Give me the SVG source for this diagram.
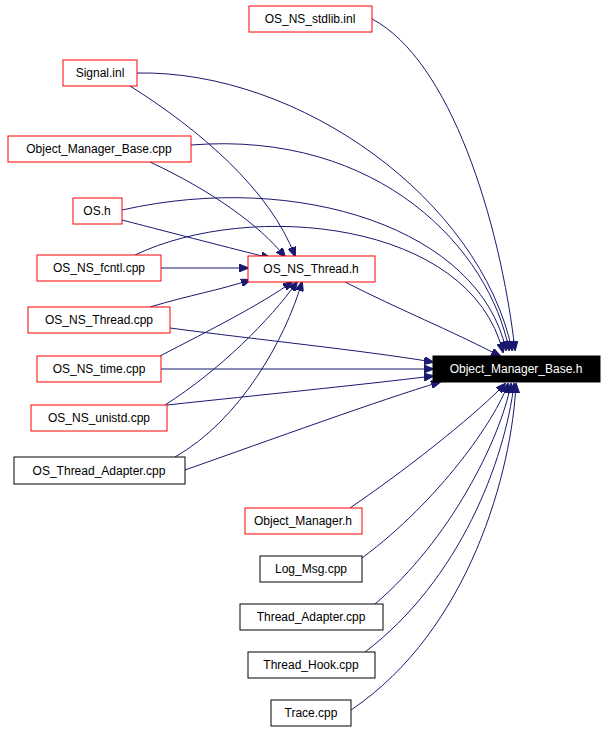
<svg xmlns="http://www.w3.org/2000/svg" width="608" height="731" viewBox="0 0 608 731">
<style>
.n rect{fill:#fff;stroke:#000;stroke-width:1}
.r rect{stroke:#f00}
text{font-family:"Liberation Sans",Arial,sans-serif;font-size:12px;text-anchor:middle}
#edges path{fill:none;stroke:#191970;stroke-width:1;marker-end:url(#a)}
</style>
<defs><marker id="a" markerWidth="10" markerHeight="8" refX="9" refY="4" orient="auto" markerUnits="userSpaceOnUse"><path d="M0,0L10,4L0,8z" fill="#191970" stroke="#191970"/></marker></defs>
<rect width="608" height="731" fill="#fff"/>
<g id="edges">
<path d="M372,19C450,60 500,220 515,350"/>
<path d="M137,73C300,70 480,200 512,350"/>
<path d="M191,145C380,130 490,250 509,350"/>
<path d="M122,210C300,170 480,230 506,350"/>
<path d="M135,255C250,200 470,220 503,352"/>
<path d="M345,282C400,310 450,330 500,356"/>
<path d="M170,328C260,340 360,350 433,362"/>
<path d="M161,369L433,369"/>
<path d="M167,405C260,395 360,385 433,376"/>
<path d="M185,470C270,440 380,400 440,382"/>
<path d="M350,508C420,460 480,410 505,384"/>
<path d="M362,558C440,500 495,420 508,384"/>
<path d="M375,604C450,540 500,440 511,384"/>
<path d="M365,652C460,580 505,460 514,384"/>
<path d="M351,710C470,630 512,470 516,384"/>
<path d="M130,86C200,130 270,190 295,256"/>
<path d="M150,162C210,190 260,225 285,257"/>
<path d="M122,220C180,235 230,248 270,258"/>
<path d="M161,268L248,268"/>
<path d="M150,307C190,295 220,290 250,280"/>
<path d="M160,356C210,330 260,305 292,282"/>
<path d="M165,405C220,370 270,320 297,282"/>
<path d="M175,457C240,420 285,340 302,282"/>
</g>
<g id="n1" class="n r"><rect x="249" y="6" width="123" height="26"/><text x="310" y="23">OS_NS_stdlib.inl</text></g>
<g id="n2" class="n r"><rect x="63" y="60" width="74" height="26"/><text x="100" y="77">Signal.inl</text></g>
<g id="n3" class="n r"><rect x="8" y="136" width="183" height="26"/><text x="99" y="153">Object_Manager_Base.cpp</text></g>
<g id="n4" class="n r"><rect x="73" y="198" width="49" height="26"/><text x="97" y="215">OS.h</text></g>
<g id="n5" class="n r"><rect x="37" y="255" width="124" height="26"/><text x="99" y="272">OS_NS_fcntl.cpp</text></g>
<g id="n6" class="n r"><rect x="248" y="256" width="127" height="26"/><text x="311" y="273">OS_NS_Thread.h</text></g>
<g id="n7" class="n r"><rect x="28" y="307" width="142" height="26"/><text x="99" y="324">OS_NS_Thread.cpp</text></g>
<g id="n8"><rect x="433" y="356" width="167" height="26" fill="#000" stroke="#000"/><text x="516" y="373" fill="#fff">Object_Manager_Base.h</text></g>
<g id="n9" class="n r"><rect x="37" y="356" width="124" height="26"/><text x="99" y="373">OS_NS_time.cpp</text></g>
<g id="n10" class="n r"><rect x="31" y="405" width="136" height="26"/><text x="99" y="422">OS_NS_unistd.cpp</text></g>
<g id="n11" class="n"><rect x="14" y="457" width="171" height="27"/><text x="99" y="475">OS_Thread_Adapter.cpp</text></g>
<g id="n12" class="n r"><rect x="245" y="508" width="117" height="26"/><text x="303" y="525">Object_Manager.h</text></g>
<g id="n13" class="n"><rect x="260" y="556" width="102" height="26"/><text x="311" y="573">Log_Msg.cpp</text></g>
<g id="n14" class="n"><rect x="240" y="604" width="143" height="26"/><text x="311" y="621">Thread_Adapter.cpp</text></g>
<g id="n15" class="n"><rect x="248" y="652" width="127" height="26"/><text x="311" y="669">Thread_Hook.cpp</text></g>
<g id="n16" class="n"><rect x="271" y="700" width="80" height="26"/><text x="311" y="717">Trace.cpp</text></g>
</svg>
